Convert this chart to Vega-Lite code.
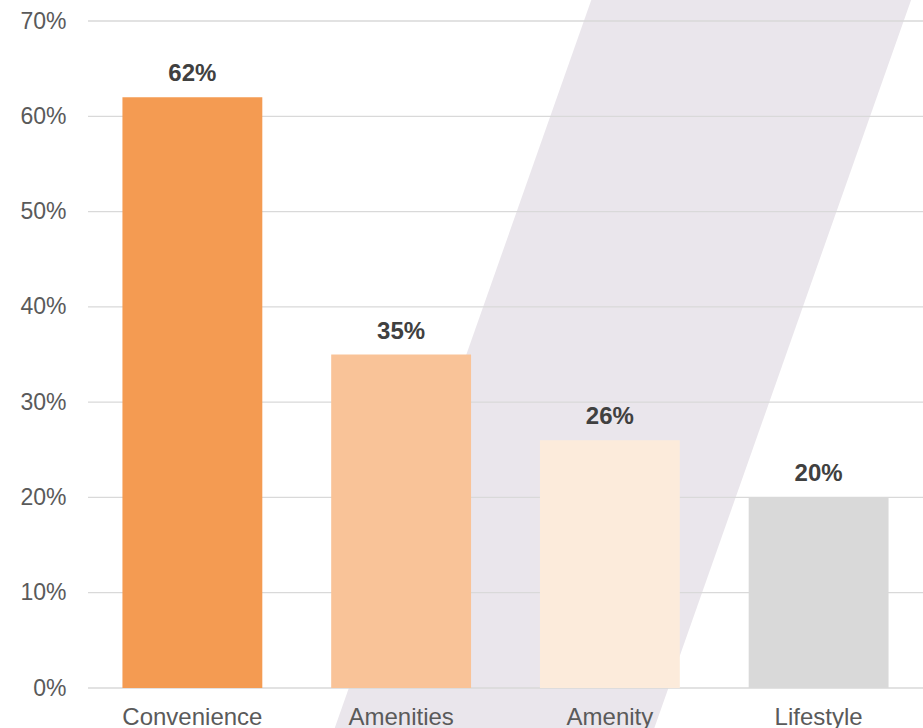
{
  "$schema": "https://vega.github.io/schema/vega-lite/v6.json",
  "autosize": "none",
  "width": 835,
  "height": 667,
  "padding": {"left": 88, "top": 21, "right": 0, "bottom": 40},
  "background": "white",
  "config": {"view": {"stroke": null}, "font": "Liberation Sans"},
  "datasets": {
    "bars": [
      {"category": "Convenience", "share": 0.62},
      {"category": "Amenities", "share": 0.35},
      {"category": "Amenity", "share": 0.26},
      {"category": "Lifestyle", "share": 0.20}
    ],
    "band": [
      {"level": 0.76, "left": 2.472, "right": 4.004},
      {"level": -0.06, "left": 1.153, "right": 2.684}
    ],
    "grid": [
      {"tick": 0}, {"tick": 0.1}, {"tick": 0.2}, {"tick": 0.3},
      {"tick": 0.4}, {"tick": 0.5}, {"tick": 0.6}, {"tick": 0.7}
    ]
  },
  "resolve": {"scale": {"x": "independent"}},
  "layer": [
    {
      "data": {"name": "band"},
      "mark": {"type": "area", "orient": "horizontal", "color": "#EAE6EC", "clip": false, "interpolate": "linear"},
      "encoding": {
        "y": {
          "field": "level", "type": "quantitative", "scale": {"domain": [0, 0.7], "nice": false, "zero": false},
          "axis": {"title": null, "zindex": 1, "values": [0, 0.1, 0.2, 0.3, 0.4, 0.5, 0.6, 0.7], "format": ".0%", "grid": false, "domain": false, "ticks": false, "labelPadding": 22, "labelFontSize": 23, "labelColor": "#5A5A5A", "labelFont": "Liberation Sans"}
        },
        "x": {"field": "left", "type": "quantitative", "scale": {"domain": [0, 4], "nice": false, "zero": false}, "axis": null},
        "x2": {"field": "right"}
      }
    },
    {
      "data": {"name": "grid"},
      "mark": {"type": "rule", "color": "#D9D9D9", "strokeWidth": 1.3},
      "encoding": {
        "y": {"field": "tick", "type": "quantitative", "title": null}
      }
    },
    {
      "data": {"name": "bars"},
      "layer": [
        {
          "mark": {"type": "bar"},
          "encoding": {
            "x": {
              "field": "category", "type": "nominal", "sort": null,
              "scale": {"paddingInner": 0.33, "paddingOuter": 0.165},
              "axis": {"title": null, "zindex": 1, "labelAngle": 0, "ticks": false, "domain": false, "grid": false, "labelPadding": 17, "labelFontSize": 24, "labelColor": "#5A5A5A", "labelFont": "Liberation Sans"}
            },
            "y": {"field": "share", "type": "quantitative", "title": null},
            "color": {
              "field": "category", "type": "nominal", "legend": null,
              "scale": {"domain": ["Convenience", "Amenities", "Amenity", "Lifestyle"], "range": ["#F49B52", "#F9C398", "#FCEBDB", "#D9D9D9"]}
            }
          }
        },
        {
          "mark": {"type": "text", "baseline": "alphabetic", "dy": -16, "fontSize": 24, "fontWeight": "bold", "color": "#404040", "font": "Liberation Sans"},
          "encoding": {
            "x": {"field": "category", "type": "nominal", "sort": null},
            "y": {"field": "share", "type": "quantitative", "title": null},
            "text": {"field": "share", "type": "quantitative", "format": ".0%"}
          }
        }
      ]
    }
  ]
}
